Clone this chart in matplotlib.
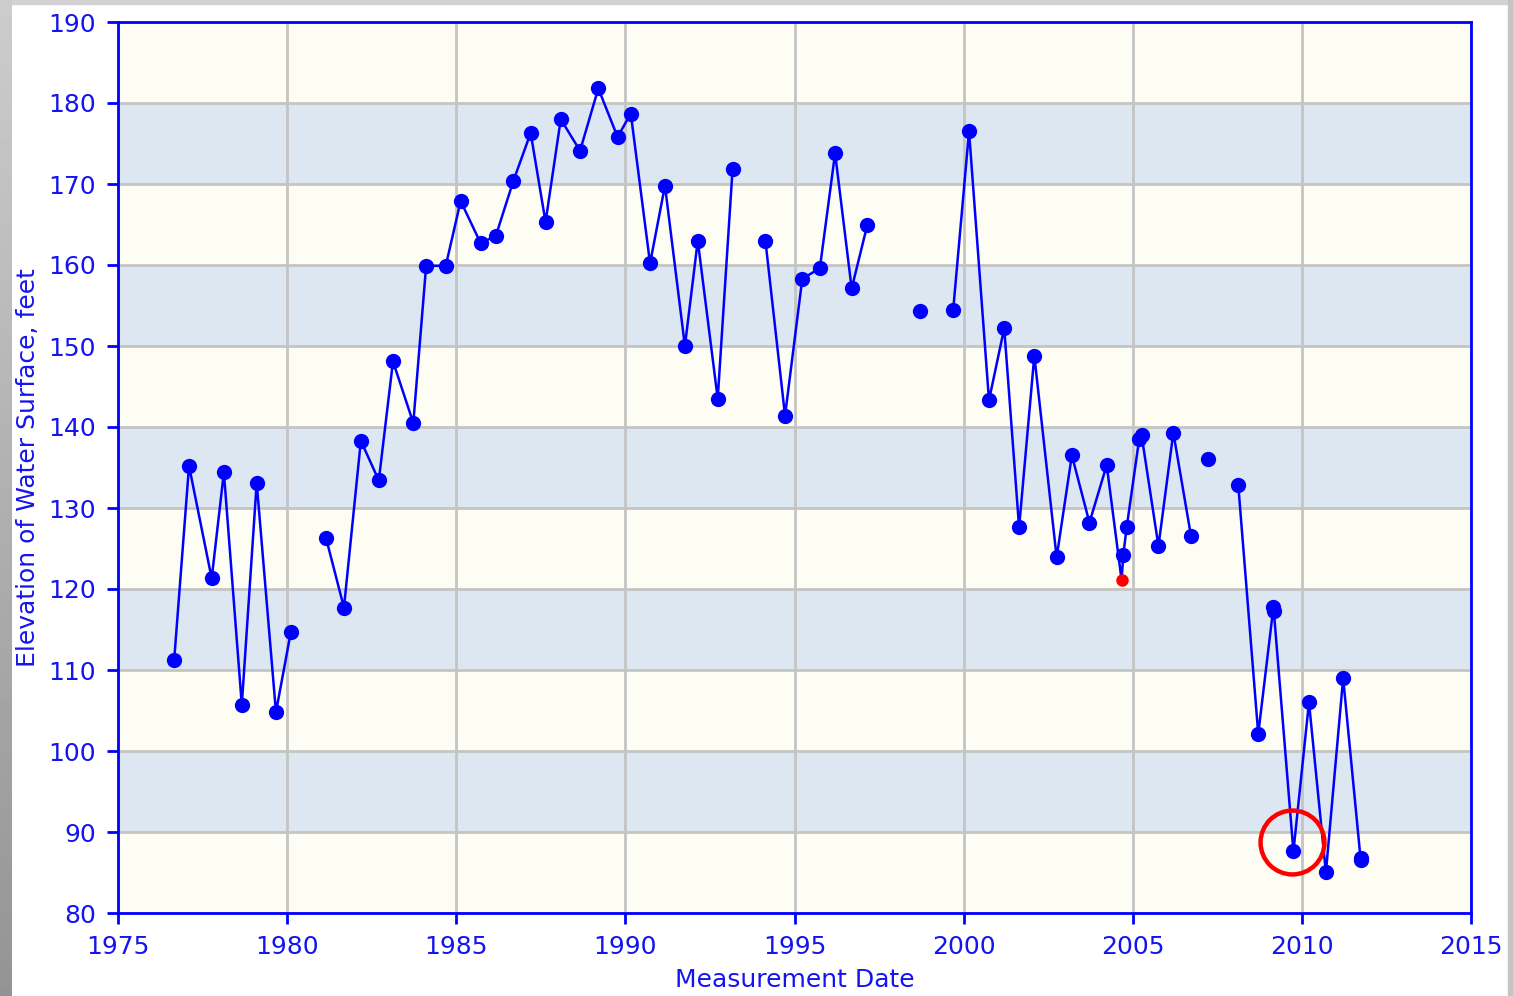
import numpy as np
import matplotlib
matplotlib.use("Agg")
import matplotlib.pyplot as plt
import matplotlib.transforms as mtransforms

# water level measurements (decimal year, feet); nan = gap in record
dates = [1976.66, 1977.10, 1977.77, 1978.13, 1978.66, 1979.10, 1979.67, 1980.11, np.nan,
         1981.15, 1981.68, 1982.18, 1982.71, 1983.13, 1983.73, 1984.11, 1984.69, 1985.13,
         1985.72, 1986.17, 1986.69, 1987.20, 1987.64, 1988.09, 1988.66, 1989.20, 1989.77,
         1990.16, 1990.73, 1991.17, 1991.76, 1992.14, 1992.73, 1993.17, np.nan,
         1994.14, 1994.72, 1995.23, 1995.75, 1996.20, 1996.69, 1997.15, np.nan,
         1998.71, np.nan,
         1999.69, 2000.16, 2000.75, 2001.20, 2001.64, 2002.09, 2002.75, 2003.20, 2003.72,
         2004.23, 2004.67, 2004.72, 2004.82, 2005.19, 2005.26, 2005.76, 2006.20, 2006.72, np.nan,
         2007.23, np.nan,
         2008.12, 2008.71, 2009.16, 2009.17, 2009.75, 2010.21, 2010.71, 2011.22, 2011.74, 2011.76]
levels = [111.2, 135.2, 121.3, 134.4, 105.7, 133.1, 104.8, 114.7, np.nan,
          126.3, 117.7, 138.3, 133.4, 148.1, 140.5, 159.9, 159.9, 167.9,
          162.7, 163.6, 170.4, 176.3, 165.3, 178.0, 174.1, 181.8, 175.8,
          178.7, 160.2, 169.8, 150.0, 163.0, 143.5, 171.9, np.nan,
          163.0, 141.4, 158.3, 159.6, 173.8, 157.1, 164.9, np.nan,
          154.3, np.nan,
          154.4, 176.5, 143.3, 152.2, 127.6, 148.8, 123.9, 136.5, 128.2,
          135.3, 121.1, 124.2, 127.6, 138.5, 139.0, 125.3, 139.3, 126.6, np.nan,
          136.1, np.nan,
          132.8, 102.1, 117.8, 117.3, 87.6, 106.0, 85.0, 109.0, 86.5, 86.8]

flagged_date = 2004.67     # shown in red
highlight_date = 2009.75   # circled

x_ticks = [1975, 1980, 1985, 1990, 1995, 2000, 2005, 2010, 2015]
y_ticks = list(range(80, 191, 10))

BLUE = "#0000ff"
TEXT = "#1414f0"

fig = plt.figure(figsize=(15.13, 9.96), dpi=100)
fig.patch.set_facecolor("white")

# grey frame around the screenshot
left = fig.add_axes([0, 0, 12 / 1513, 1])
grad = np.linspace(0.80, 0.58, 200).reshape(-1, 1)
left.imshow(grad, cmap="gray", vmin=0, vmax=1, aspect="auto")
left.axis("off")
fig.add_artist(plt.Rectangle((0, 1 - 4 / 996), 1, 4 / 996, transform=fig.transFigure,
                             color="#d2d2d2", zorder=0))
fig.add_artist(plt.Rectangle((1 - 5 / 1513, 0), 5 / 1513, 1, transform=fig.transFigure,
                             color="#c4c4c4", zorder=0))

ax = fig.add_axes([118 / 1513, 83 / 996, 1353 / 1513, 891 / 996])
ax.set_facecolor("#fdfdf4")
for lo in range(90, 190, 20):
    ax.axhspan(lo, lo + 10, color="#dce7f1", zorder=0, lw=0)

ax.set_xlim(1975, 2015)
ax.set_ylim(80, 190)
ax.set_xticks(x_ticks)
ax.set_yticks(y_ticks)
ax.grid(True, color="#c4c4c4", lw=2, zorder=1)
ax.set_axisbelow(True)

x = np.array(dates, dtype=float)
y = np.array(levels, dtype=float)
ok = ~np.isnan(x)
red = ok & np.isclose(x, flagged_date)

ax.plot(x, y, "-", color=BLUE, lw=1.8, zorder=3)
ax.plot(x[ok & ~red], y[ok & ~red], "o", color=BLUE, ms=11, mew=0, zorder=4)
ax.plot(x[red], y[red], "o", color="#ff0000", ms=9, mew=0, zorder=5)

hi = ok & np.isclose(x, highlight_date)
shift = mtransforms.offset_copy(ax.transData, fig=fig, x=-1, y=7, units="points")
ax.plot(x[hi], y[hi], "o", ms=46, mfc="none", mec="#ff0000", mew=3.2,
        transform=shift, zorder=6, clip_on=False)

for s in ax.spines.values():
    s.set_color(BLUE)
    s.set_linewidth(2)
ax.tick_params(direction="out", length=8, width=2, color=BLUE, labelcolor=TEXT,
               labelsize=18, pad=8)

ax.set_xlabel("Measurement Date", color=TEXT, fontsize=18, labelpad=6)
ax.set_ylabel("Elevation of Water Surface, feet", color=TEXT, fontsize=18, labelpad=6)

fig.savefig("out.png", dpi=100)
